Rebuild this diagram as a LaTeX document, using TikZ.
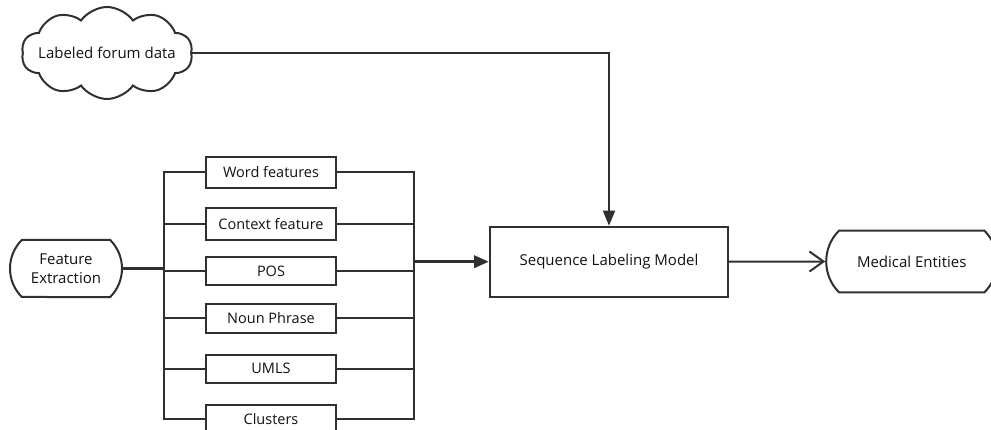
\documentclass[tikz,border=0pt]{standalone}
\usepackage{fontspec}
\setmainfont{Open Sans}
\usetikzlibrary{arrows.meta,shapes.misc,shapes.symbols}
\definecolor{ink}{HTML}{303030}
\definecolor{txt}{HTML}{111111}
\begin{document}
\begin{tikzpicture}[x=1pt,y=-1pt,
  every node/.style={font=\fontsize{15}{19}\selectfont, text=txt},
  box/.style={draw=ink, line width=2pt, rectangle, inner sep=0pt, align=center},
  featbox/.style={box, minimum width=130pt, font=\fontsize{14.5}{19}\selectfont},
  term/.style={draw=ink, line width=2pt, rounded rectangle,
    rounded rectangle arc length=90, inner sep=0pt, align=center},
  puff/.style={draw=ink, line width=2pt, cloud, cloud puffs=10,
    cloud puff arc=110, cloud ignores aspect, inner sep=0pt},
  wire/.style={draw=ink, line width=2pt},
  heavy/.style={draw=ink, line width=3.5pt},
  solidtip/.style={-{Triangle[length=15pt,width=12pt]}},
  barbtip/.style={-{Straight Barb[length=14pt,width=20pt]}},
]
\useasboundingbox (0,0) rectangle (991,430);

% data source and feature extraction
\node[puff, minimum width=171pt, minimum height=92pt] (cl) at (107,53)
  {\makebox[0pt]{Labeled forum data}};
\node[term, minimum width=112pt, minimum height=57pt] (fe) at (66,268.5)
  {Feature\\Extraction};

% feature boxes
\node[featbox, minimum height=31pt]   (w1) at (271,172.5) {Word features};
\node[featbox, minimum height=32pt]   (w2) at (271,224)   {Context feature};
\node[featbox, minimum height=28pt]   (w3) at (271,271)   {POS};
\node[featbox, minimum height=28.7pt] (w4) at (271,318.3) {Noun Phrase};
\node[featbox, minimum height=28pt]   (w5) at (271,368.7) {UMLS};
\node[featbox, minimum height=28pt]   (w6) at (271,419)   {Clusters};

% model and output
\node[box, minimum width=238pt, minimum height=70pt] (slm) at (609,261.7)
  {Sequence Labeling Model};
\node[term, minimum width=171pt, minimum height=61.6pt] (me) at (911.7,261.5)
  {Medical Entities};

% bus lines
\coordinate (lbus) at (164,0);
\coordinate (rbus) at (414,0);

\draw[wire] (w1.west) -- (w1.west -| lbus) -- (w6.west -| lbus) -- (w6.west);
\draw[wire] (w1.east) -- (w1.east -| rbus) -- (w6.east -| rbus) -- (w6.east);
\foreach \n in {w2,w3,w4,w5}{
  \draw[wire] (\n.west) -- (\n.west -| lbus);
  \draw[wire] (\n.east) -- (\n.east -| rbus);
}

\draw[heavy] (fe.east) -- (fe.east -| lbus);
\draw[heavy, solidtip] (slm.west -| rbus) -- (slm.west);

\draw[wire, solidtip] (cl.east) -| (slm.north);
\draw[wire, barbtip] (slm.east) -- (me.west);
\end{tikzpicture}
\end{document}
